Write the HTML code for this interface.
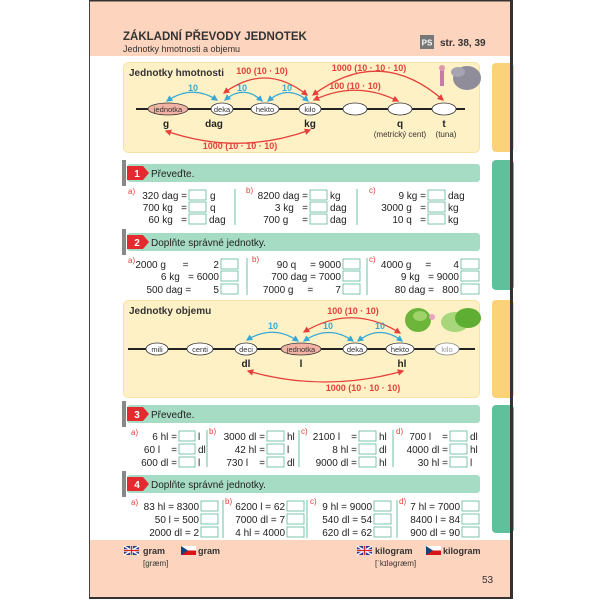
<!DOCTYPE html>
<html><head><meta charset="utf-8"><style>
html,body{margin:0;padding:0;background:#fff;}
svg{display:block;font-family:"Liberation Sans",Arial,sans-serif;}
text{white-space:pre;}
</style></head><body>
<svg width="600" height="600" viewBox="0 0 600 600" xmlns="http://www.w3.org/2000/svg" xml:space="preserve">
<defs>
<marker id="ar" viewBox="0 0 10 10" refX="8" refY="5" markerWidth="5" markerHeight="5" orient="auto-start-reverse"><path d="M0,0L10,5L0,10z" fill="#e5403a"/></marker>
<marker id="ac" viewBox="0 0 10 10" refX="8" refY="5" markerWidth="5" markerHeight="5" orient="auto-start-reverse"><path d="M0,0L10,5L0,10z" fill="#37a8d6"/></marker>
</defs>
<rect x="89" y="0" width="423" height="598" fill="#fff"/>
<rect x="90" y="0" width="420" height="56" fill="#fdd4bd"/>
<rect x="90" y="540" width="420" height="57" fill="#fdd4bd"/>
<line x1="89.5" y1="0" x2="89.5" y2="598" stroke="#444" stroke-width="1"/>
<rect x="89" y="597" width="424" height="2" fill="#333"/>
<rect x="89" y="0" width="424" height="1.5" fill="#333"/>
<text x="123" y="40" font-size="11.5" font-weight="bold" fill="#333">ZÁKLADNÍ PŘEVODY JEDNOTEK</text>
<text x="123" y="52" font-size="9" fill="#333">Jednotky hmotnosti a objemu</text>
<rect x="420" y="35" width="14" height="14" fill="#777"/>
<text x="427" y="45.5" font-size="8" font-weight="bold" fill="#fff" text-anchor="middle">PS</text>
<text x="440" y="46" font-size="10" font-weight="bold" fill="#333">str. 38, 39</text>
<rect x="492" y="63" width="22" height="89" rx="4" fill="#fbd277"/>
<rect x="492" y="160" width="22" height="130" rx="4" fill="#5fc19c"/>
<rect x="492" y="300" width="22" height="98" rx="4" fill="#fbd277"/>
<rect x="492" y="405" width="22" height="128" rx="4" fill="#5fc19c"/>
<rect x="510" y="0" width="3" height="599" fill="#333"/>
<rect x="123.5" y="62.5" width="356" height="90" rx="5" fill="#fff1c6" stroke="#f7e3a6"/>
<text x="129" y="76" font-size="10" font-weight="bold" fill="#333">Jednotky hmotnosti</text>
<ellipse cx="467" cy="78" rx="14" ry="12" fill="#8f8d9a"/><ellipse cx="458" cy="72" rx="7" ry="5" fill="#a6a4b0"/>
<rect x="440" y="70" width="4" height="16" fill="#c77ba8"/><circle cx="442" cy="68" r="3" fill="#d9a"/>
<line x1="136" y1="109" x2="465" y2="109" stroke="#222" stroke-width="2"/>
<g stroke="#333" stroke-width="0.8">
<ellipse cx="168" cy="109" rx="20" ry="6" fill="#f2b2a4"/>
<ellipse cx="222" cy="109" rx="11" ry="6" fill="#fff"/>
<ellipse cx="265" cy="109" rx="14" ry="6" fill="#fff"/>
<ellipse cx="310" cy="109" rx="11" ry="6" fill="#fff"/>
<ellipse cx="355" cy="109" rx="12" ry="6" fill="#fff"/>
<ellipse cx="400" cy="109" rx="12" ry="6" fill="#fff"/>
<ellipse cx="444" cy="109" rx="12" ry="6" fill="#fff"/>
</g>
<g font-size="7.5" fill="#333" text-anchor="middle">
<text x="168" y="112">jednotka</text><text x="222" y="112">deka</text><text x="265" y="112">hekto</text><text x="310" y="112">kilo</text>
</g>
<g font-size="10" font-weight="bold" fill="#222" text-anchor="middle">
<text x="166" y="127">g</text><text x="214" y="127">dag</text><text x="310" y="127">kg</text><text x="400" y="127">q</text><text x="444" y="127">t</text>
</g>
<text x="400" y="137" font-size="8" fill="#333" text-anchor="middle">(metrický cent)</text>
<text x="446" y="137" font-size="8" fill="#333" text-anchor="middle">(tuna)</text>
<g fill="none" stroke-width="1.3">
<path d="M167,101 Q192,84 217,100" stroke="#37a8d6" marker-start="url(#ac)" marker-end="url(#ac)"/>
<path d="M225,100 Q244,84 262,101" stroke="#37a8d6" marker-start="url(#ac)" marker-end="url(#ac)"/>
<path d="M268,101 Q288,84 308,101" stroke="#37a8d6" marker-start="url(#ac)" marker-end="url(#ac)"/>
<path d="M224,93 Q266,62 307,95" stroke="#e5403a" marker-start="url(#ar)" marker-end="url(#ar)"/>
<path d="M313,95 Q380,45 443,100" stroke="#e5403a" marker-start="url(#ar)" marker-end="url(#ar)"/>
<path d="M314,100 Q356,80 398,101" stroke="#e5403a" marker-start="url(#ar)" marker-end="url(#ar)"/>
<path d="M166,131 Q238,156 310,130" stroke="#e5403a" marker-start="url(#ar)" marker-end="url(#ar)"/>
</g>
<g font-size="9" font-weight="bold" text-anchor="middle">
<text x="193" y="91" fill="#37a8d6">10</text><text x="242" y="91" fill="#37a8d6">10</text><text x="287" y="91" fill="#37a8d6">10</text>
<text x="262" y="74" fill="#e5403a">100 (10 · 10)</text>
<text x="369" y="71" fill="#e5403a">1000 (10 · 10 · 10)</text>
<text x="355" y="89" fill="#e5403a">100 (10 · 10)</text>
<text x="240" y="149" fill="#e5403a">1000 (10 · 10 · 10)</text>
</g>
<g>
<rect x="127" y="164" width="353" height="18" rx="3" fill="#a6dcc3"/>
<rect x="127" y="233" width="353" height="18" rx="3" fill="#a6dcc3"/>
<rect x="127" y="405" width="353" height="18" rx="3" fill="#a6dcc3"/>
<rect x="127" y="475" width="353" height="18" rx="3" fill="#a6dcc3"/>
<rect x="122" y="160" width="4" height="26" fill="#888"/>
<rect x="122" y="229" width="4" height="26" fill="#888"/>
<rect x="122" y="401" width="4" height="26" fill="#888"/>
<rect x="122" y="471" width="4" height="26" fill="#888"/>
<path d="M127,166H143L149,173L143,180H127Z" fill="#e52a2f"/>
<path d="M127,235H143L149,242L143,249H127Z" fill="#e52a2f"/>
<path d="M127,407H143L149,414L143,421H127Z" fill="#e52a2f"/>
<path d="M127,477H143L149,484L143,491H127Z" fill="#e52a2f"/>
</g>
<g font-size="10" font-weight="bold" fill="#fff" text-anchor="middle">
<text x="137" y="177">1</text><text x="137" y="246">2</text><text x="137" y="418">3</text><text x="137" y="488">4</text>
</g>
<g font-size="10" fill="#222">
<text x="151" y="177">Převeďte.</text><text x="151" y="246">Doplňte správné jednotky.</text>
<text x="151" y="418">Převeďte.</text><text x="151" y="488">Doplňte správné jednotky.</text>
</g>
<g stroke="#6cc3a3" stroke-width="1">
<line x1="235" y1="189" x2="235" y2="225"/><line x1="357" y1="189" x2="357" y2="225"/>
<line x1="247" y1="258" x2="247" y2="295"/><line x1="367" y1="258" x2="367" y2="295"/>
<line x1="207" y1="430" x2="207" y2="467"/><line x1="299" y1="430" x2="299" y2="467"/><line x1="393" y1="430" x2="393" y2="467"/>
<line x1="223" y1="500" x2="223" y2="538"/><line x1="307" y1="500" x2="307" y2="538"/><line x1="397" y1="500" x2="397" y2="538"/>
</g>
<g fill="#fff" stroke="#5db89a" stroke-width="0.8">
<rect x="189" y="190" width="17" height="10"/><rect x="189" y="202" width="17" height="10"/><rect x="189" y="214" width="17" height="10"/>
<rect x="310" y="190" width="17" height="10"/><rect x="310" y="202" width="17" height="10"/><rect x="310" y="214" width="17" height="10"/>
<rect x="428" y="190" width="17" height="10"/><rect x="428" y="202" width="17" height="10"/><rect x="428" y="214" width="17" height="10"/>
<rect x="221" y="259" width="17" height="10"/><rect x="221" y="271" width="17" height="10"/><rect x="221" y="284" width="17" height="10"/>
<rect x="343" y="259" width="17" height="10"/><rect x="343" y="271" width="17" height="10"/><rect x="343" y="284" width="17" height="10"/>
<rect x="461" y="259" width="18" height="10"/><rect x="461" y="271" width="18" height="10"/><rect x="461" y="284" width="18" height="10"/>
<rect x="179" y="431" width="16" height="10"/><rect x="179" y="444" width="16" height="10"/><rect x="179" y="457" width="16" height="10"/>
<rect x="267" y="431" width="17" height="10"/><rect x="267" y="444" width="17" height="10"/><rect x="267" y="457" width="17" height="10"/>
<rect x="359" y="431" width="17" height="10"/><rect x="359" y="444" width="17" height="10"/><rect x="359" y="457" width="17" height="10"/>
<rect x="450" y="431" width="17" height="10"/><rect x="450" y="444" width="17" height="10"/><rect x="450" y="457" width="17" height="10"/>
<rect x="201" y="501" width="17" height="10"/><rect x="201" y="514" width="17" height="10"/><rect x="201" y="527" width="17" height="10"/>
<rect x="287" y="501" width="17" height="10"/><rect x="287" y="514" width="17" height="10"/><rect x="287" y="527" width="17" height="10"/>
<rect x="374" y="501" width="17" height="10"/><rect x="374" y="514" width="17" height="10"/><rect x="374" y="527" width="17" height="10"/>
<rect x="462" y="501" width="17" height="10"/><rect x="462" y="514" width="17" height="10"/><rect x="462" y="527" width="17" height="10"/>
</g>
<g font-size="8" fill="#e5403a">
<text x="128" y="194">a)</text><text x="246" y="193">b)</text><text x="369" y="193">c)</text>
<text x="128" y="263">a)</text><text x="252" y="262">b)</text><text x="369" y="262">c)</text>
<text x="131" y="435">a)</text><text x="209" y="434">b)</text><text x="301" y="434">c)</text><text x="396" y="434">d)</text>
<text x="131" y="505">a)</text><text x="225" y="504">b)</text><text x="310" y="504">c)</text><text x="399" y="504">d)</text>
</g>
<g font-size="10" fill="#222" text-anchor="end">
<text x="187" y="199">320 dag =</text><text x="187" y="211">700 kg   =</text><text x="187" y="223">60 kg   =</text>
<text x="308" y="199">8200 dag =</text><text x="308" y="211">3 kg   =</text><text x="308" y="223">700 g     =</text>
<text x="426" y="199">9 kg =</text><text x="426" y="211">3000 g   =</text><text x="426" y="223">10 q   =</text>
<text x="219" y="268">2000 g      =         2</text><text x="219" y="280">6 kg   = 6000</text><text x="219" y="293">500 dag =        5</text>
<text x="341" y="268">90 q     = 9000</text><text x="341" y="280">700 dag = 7000</text><text x="341" y="293">7000 g     =        7</text>
<text x="459" y="268">4000 g     =        4</text><text x="459" y="280">9 kg   = 9000</text><text x="459" y="293">80 dag =   800</text>
<text x="177" y="440">6 hl =</text><text x="177" y="453">60 l    =</text><text x="177" y="466">600 dl =</text>
<text x="265" y="440">3000 dl =</text><text x="265" y="453">42 hl =</text><text x="265" y="466">730 l    =</text>
<text x="357" y="440">2100 l    =</text><text x="357" y="453">8 hl =</text><text x="357" y="466">9000 dl =</text>
<text x="448" y="440">700 l    =</text><text x="448" y="453">4000 dl =</text><text x="448" y="466">30 hl =</text>
<text x="199" y="510">83 hl = 8300</text><text x="199" y="523">50 l = 500</text><text x="199" y="536">2000 dl = 2</text>
<text x="285" y="510">6200 l = 62</text><text x="285" y="523">7000 dl = 7</text><text x="285" y="536">4 hl = 4000</text>
<text x="372" y="510">9 hl = 9000</text><text x="372" y="523">540 dl = 54</text><text x="372" y="536">620 dl = 62</text>
<text x="460" y="510">7 hl = 7000</text><text x="460" y="523">8400 l = 84</text><text x="460" y="536">900 dl = 90</text>
</g>
<g font-size="10" fill="#222">
<text x="210" y="199">g</text><text x="210" y="211">q</text><text x="209" y="223">dag</text>
<text x="330" y="199">kg</text><text x="330" y="211">dag</text><text x="330" y="223">dag</text>
<text x="448" y="199">dag</text><text x="448" y="211">kg</text><text x="448" y="223">kg</text>
<text x="198" y="440">l</text><text x="198" y="453">dl</text><text x="198" y="466">l</text>
<text x="287" y="440">hl</text><text x="287" y="453">l</text><text x="287" y="466">dl</text>
<text x="379" y="440">hl</text><text x="379" y="453">dl</text><text x="379" y="466">hl</text>
<text x="470" y="440">dl</text><text x="470" y="453">hl</text><text x="470" y="466">l</text>
</g>
<rect x="123.5" y="300.5" width="356" height="97" rx="5" fill="#fff1c6" stroke="#f7e3a6"/>
<text x="129" y="314" font-size="10" font-weight="bold" fill="#333">Jednotky objemu</text>
<ellipse cx="418" cy="320" rx="13" ry="12" fill="#6cb43a"/><ellipse cx="420" cy="316" rx="7" ry="5" fill="#9fd36a"/>
<circle cx="432" cy="317" r="3" fill="#e9a3c3"/>
<ellipse cx="455" cy="322" rx="14" ry="10" fill="#a7d77a"/><ellipse cx="468" cy="318" rx="13" ry="10" fill="#5fae34"/>
<line x1="128" y1="349" x2="475" y2="349" stroke="#222" stroke-width="2"/>
<g stroke="#333" stroke-width="0.8">
<ellipse cx="157" cy="349" rx="11" ry="6" fill="#fff"/>
<ellipse cx="200" cy="349" rx="13" ry="6" fill="#fff"/>
<ellipse cx="246" cy="349" rx="11" ry="6" fill="#fff"/>
<ellipse cx="301" cy="349" rx="20" ry="6" fill="#f2b2a4"/>
<ellipse cx="355" cy="349" rx="12" ry="6" fill="#fff"/>
<ellipse cx="400" cy="349" rx="14" ry="6" fill="#fff"/>
<ellipse cx="447" cy="349" rx="12" ry="6" fill="#fff" stroke="#888"/>
</g>
<g font-size="7.5" fill="#333" text-anchor="middle">
<text x="157" y="352">mili</text><text x="200" y="352">centi</text><text x="246" y="352">deci</text><text x="301" y="352">jednotka</text><text x="355" y="352">deka</text><text x="400" y="352">hekto</text><text x="447" y="352" fill="#999">kilo</text>
</g>
<g font-size="10" font-weight="bold" fill="#222" text-anchor="middle">
<text x="246" y="367">dl</text><text x="301" y="367">l</text><text x="402" y="367">hl</text>
</g>
<g fill="none" stroke-width="1.3">
<path d="M247,340 Q273,324 298,341" stroke="#37a8d6" marker-start="url(#ac)" marker-end="url(#ac)"/>
<path d="M304,341 Q329,324 353,341" stroke="#37a8d6" marker-start="url(#ac)" marker-end="url(#ac)"/>
<path d="M358,341 Q380,324 402,341" stroke="#37a8d6" marker-start="url(#ac)" marker-end="url(#ac)"/>
<path d="M304,332 Q352,303 400,333" stroke="#e5403a" marker-start="url(#ar)" marker-end="url(#ar)"/>
<path d="M248,371 Q325,393 403,371" stroke="#e5403a" marker-start="url(#ar)" marker-end="url(#ar)"/>
</g>
<g font-size="9" font-weight="bold" text-anchor="middle">
<text x="273" y="329" fill="#37a8d6">10</text><text x="328" y="329" fill="#37a8d6">10</text><text x="380" y="329" fill="#37a8d6">10</text>
<text x="353" y="314" fill="#e5403a">100 (10 · 10)</text>
<text x="363" y="391" fill="#e5403a">1000 (10 · 10 · 10)</text>
</g>
<g>
<rect x="124" y="546" width="15" height="9" fill="#2b3f8f"/><path d="M124,546L139,555M139,546L124,555" stroke="#fff" stroke-width="1.5"/><path d="M131.5,546V555M124,550.5H139" stroke="#fff" stroke-width="2.5"/><path d="M131.5,546V555M124,550.5H139" stroke="#d22" stroke-width="1.2"/>
<rect x="181" y="546" width="15" height="4.5" fill="#fff"/><rect x="181" y="550.5" width="15" height="4.5" fill="#d7141a"/><path d="M181,546L188,550.5L181,555Z" fill="#11457e"/>
<rect x="357" y="546" width="15" height="9" fill="#2b3f8f"/><path d="M357,546L372,555M372,546L357,555" stroke="#fff" stroke-width="1.5"/><path d="M364.5,546V555M357,550.5H372" stroke="#fff" stroke-width="2.5"/><path d="M364.5,546V555M357,550.5H372" stroke="#d22" stroke-width="1.2"/>
<rect x="426" y="546" width="15" height="4.5" fill="#fff"/><rect x="426" y="550.5" width="15" height="4.5" fill="#d7141a"/><path d="M426,546L433,550.5L426,555Z" fill="#11457e"/>
</g>
<g font-size="9" fill="#333">
<text x="143" y="554" font-weight="bold">gram</text><text x="198" y="554" font-weight="bold">gram</text>
<text x="375" y="554" font-weight="bold">kilogram</text><text x="443" y="554" font-weight="bold">kilogram</text>
<text x="143" y="566" font-size="8">[græm]</text><text x="375" y="566" font-size="8">[ˈkɪləgræm]</text>
</g>
<text x="482" y="583" font-size="10" fill="#333">53</text>
</svg>
</body></html>
